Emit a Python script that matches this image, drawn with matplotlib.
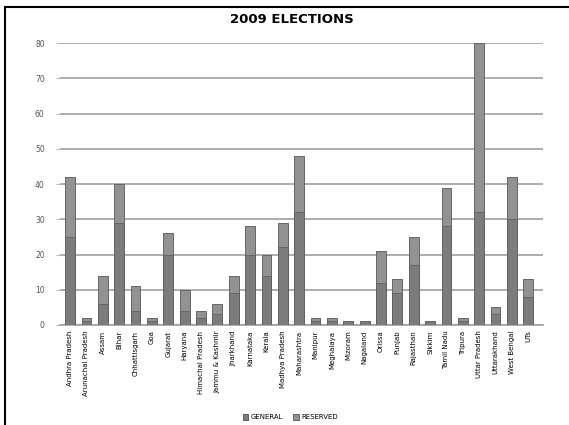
from matplotlib import pyplot as plt
from matplotlib.patches import Rectangle
import numpy as np

states = ['Andhra Pradesh', 'Arunachal Pradesh', 'Assam', 'Bihar', 'Chhattisgarh', 'Goa',
          'Gujarat', 'Haryana', 'Himachal Pradesh', 'Jammu & Kashmir', 'Jharkhand',
          'Karnataka', 'Kerala', 'Madhya Pradesh', 'Maharashtra', 'Manipur', 'Meghalaya',
          'Mizoram', 'Nagaland', 'Orissa', 'Punjab', 'Rajasthan', 'Sikkim', 'Tamil Nadu',
          'Tripura', 'Uttar Pradesh', 'Uttarakhand', 'West Bengal', 'UTs']
general = [25, 1, 6, 29, 4, 1, 20, 4, 2, 3, 9, 20, 14, 22, 32, 1, 1, 1, 1, 12, 9, 17, 1, 28, 1, 32, 3, 30, 8]
reserved = [17, 1, 8, 11, 7, 1, 6, 6, 2, 3, 5, 8, 6, 7, 16, 1, 1, 0, 0, 9, 4, 8, 0, 11, 1, 48, 2, 12, 5]
yticks = [0, 10, 20, 30, 40, 50, 60, 70, 80]

fig = plt.figure(figsize=(5.69, 4.25), dpi=100)
ax = fig.add_axes([0.1054, 0.2353, 0.8489, 0.6635])

x = np.arange(len(states))
ax.bar(x, general, width=0.6, color='#7c7c7c', edgecolor='#606060', linewidth=0.7,
       label='GENERAL', zorder=3)
ax.bar(x, reserved, width=0.6, bottom=general, color='#929292', edgecolor='#666666',
       linewidth=0.7, label='RESERVED', zorder=3)

ax.set_xlim(-0.62, len(states) - 0.1)
ax.set_ylim(0, 80)
ax.set_yticks(yticks)
ax.set_yticklabels([str(v) for v in yticks], fontsize=5.5, color='#555555')
ax.set_xticks(x)
ax.set_xticklabels(states, rotation=90, fontsize=5, va='top', ha='center')
ax.tick_params(axis='y', length=3, color='#bbbbbb', pad=8)
ax.tick_params(axis='x', length=0, pad=4)
ax.grid(axis='y', color='#a0a0a0', linewidth=1.2, zorder=0)
for s in ['top', 'right', 'left']:
    ax.spines[s].set_visible(False)
ax.spines['bottom'].set_color('#a0a0a0')
ax.spines['bottom'].set_linewidth(1.2)

fig.text(0.513, 0.955, '2009 ELECTIONS', ha='center', va='center', fontsize=9.5, fontweight='bold')
fig.legend(loc='center', bbox_to_anchor=(0.51, 0.018), ncol=2, fontsize=5, frameon=False,
           handlelength=0.8, handleheight=0.8, handletextpad=0.3, columnspacing=1.5)

fig.patches.append(Rectangle((0.009, -0.05), 1.1, 1.034, transform=fig.transFigure,
                             fill=False, edgecolor='black', linewidth=1.5))

plt.savefig('out.png')
plt.close()
